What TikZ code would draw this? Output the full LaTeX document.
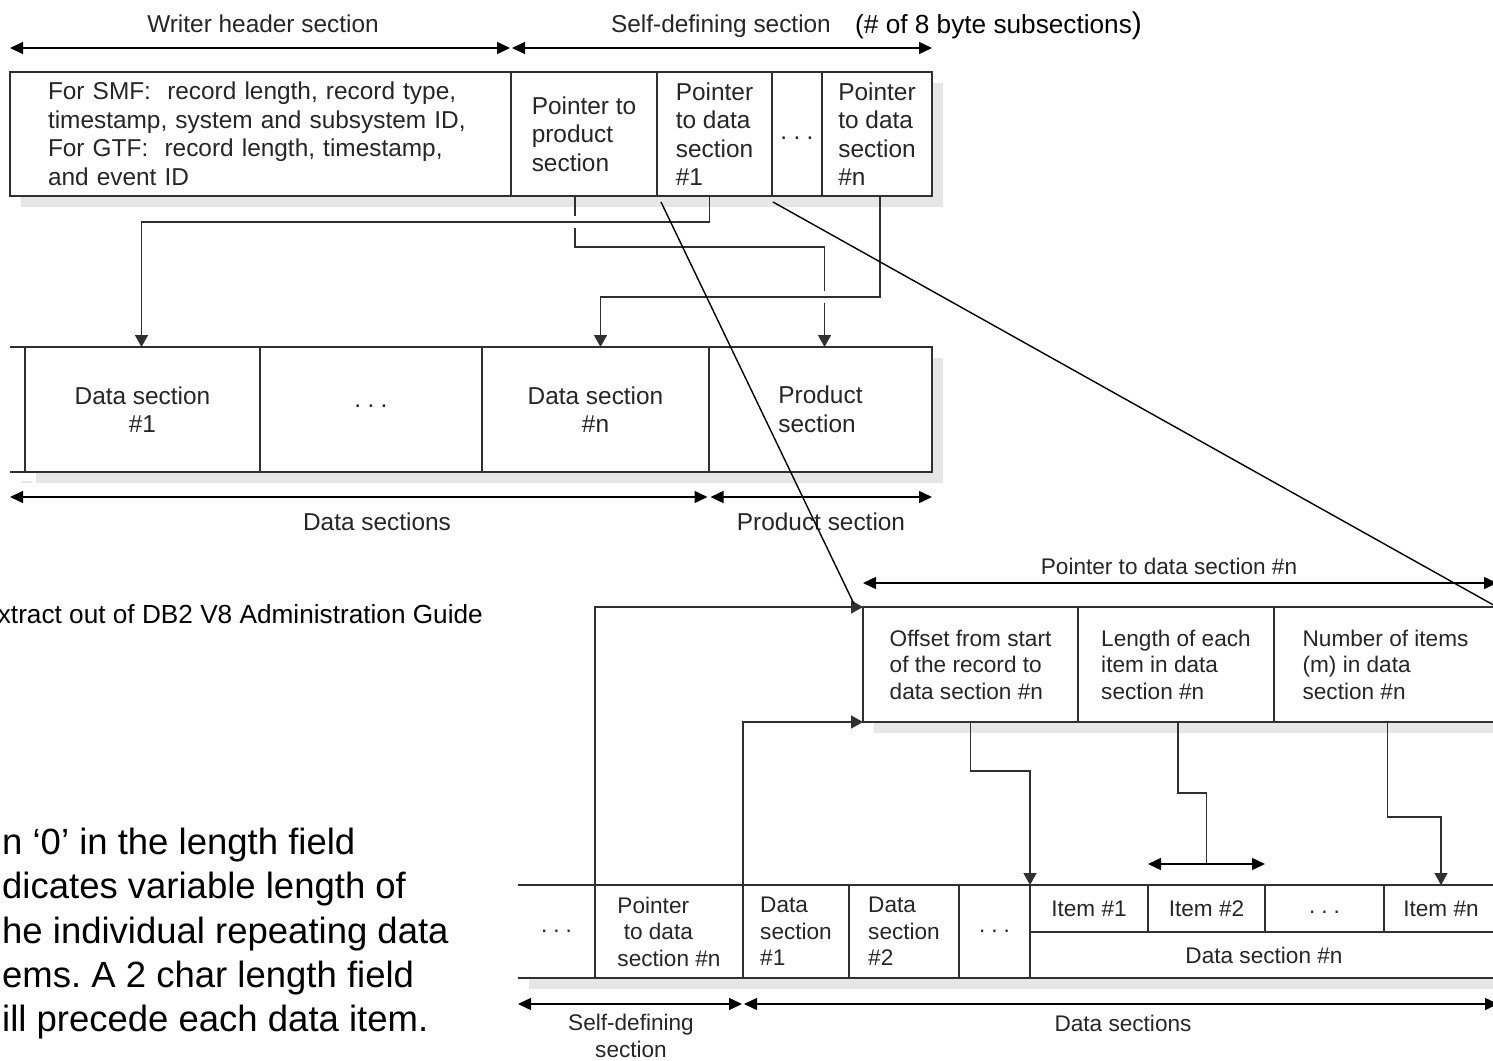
\documentclass[tikz,border=0pt]{standalone}
\usepackage{fontspec}
\setmainfont{Liberation Sans}
\usetikzlibrary{positioning,arrows.meta,backgrounds}

\definecolor{inkgray}{HTML}{262626}
\definecolor{linegray}{HTML}{303030}
\definecolor{shadowgray}{HTML}{E6E6E7}

\newcommand{\sepdots}{.\hspace{0.26em}.\hspace{0.26em}.}

\tikzset{
	cell/.style={draw=linegray, line width=1.3pt, fill=white, inner sep=0pt, outer sep=0pt, align=left, text=inkgray},
	bigcell/.style={cell, minimum height=124pt, font=\fontsize{24.4}{28.5}\selectfont},
	midcell/.style={cell, minimum height=125pt, align=center, font=\fontsize{24.4}{28.5}\selectfont},
	lowcell/.style={cell, font=\fontsize{22.6}{26.5}\selectfont},
	lbl/.style={text=inkgray, inner sep=0pt, anchor=base, font=\fontsize{24.4}{28.5}\selectfont},
	lowlbl/.style={lbl, font=\fontsize{22.6}{26.5}\selectfont},
	note/.style={inner sep=0pt, align=left, text=black},
	dimarrow/.style={draw=black, line width=1.5pt, {Triangle[length=13pt,width=12pt]}-{Triangle[length=13pt,width=12pt]}},
	link/.style={draw=linegray, line width=1.5pt},
	tipped/.style={-{Triangle[length=12pt,width=13pt]}},
	diag/.style={draw=black, line width=1.4pt},
}

\begin{document}
\begin{tikzpicture}[x=1pt, y=-1pt]
		\useasboundingbox (0,0) rectangle (1493,1060);

		\node[bigcell, text width=425pt, inner xsep=38pt, anchor=north west] (wh) at (10,72)
			{For SMF:\ \ record length, record type,\\timestamp, system and subsystem ID,\\For GTF:\ \ record length, timestamp,\\and event ID};
		\node[bigcell, minimum width=146pt, right=0pt of wh] (pprod) {Pointer to\\product\\section};
		\node[bigcell, minimum width=115pt, right=0pt of pprod] (pd1) {Pointer\\to data\\section\\\#1};
		\node[bigcell, minimum width=50pt, right=0pt of pd1] (pdots) {\raisebox{-10pt}{\sepdots}};
		\node[bigcell, minimum width=110pt, right=0pt of pdots] (pdn) {Pointer\\to data\\section\\\#n};

		\node[lbl] (whlbl) at (263,32) {Writer header section};
		\node[lbl] (sdlbl) at (721,32) {Self-defining section};
		\node[note, anchor=base west, font=\fontsize{26.2}{30}\selectfont] (sdnote) at (855,33)
			{(\# of 8 byte subsections{\fontsize{30}{30}\selectfont)}};
		\draw[dimarrow, shorten >=1pt] ([yshift=24pt]wh.north west) -- ([yshift=24pt]wh.north east);
		\draw[dimarrow, shorten <=1pt] ([yshift=24pt]pprod.north west) -- ([yshift=24pt]pdn.north east);

		\node[midcell, minimum width=235pt, anchor=north west] (ds1) at (25,347) {Data section\\\#1};
		\node[midcell, minimum width=222pt, right=0pt of ds1] (dsdots) {\raisebox{7pt}{\sepdots}};
		\node[midcell, minimum width=227pt, right=0pt of dsdots] (dsn) {Data section\\\#n};
		\node[midcell, minimum width=223pt, align=left, right=0pt of dsn] (prod) {Product\\section};
		\draw[link] (ds1.north west) -- ++(-15,0);
		\draw[link] (ds1.south west) -- ++(-15,0);

		\draw[dimarrow, shorten >=1.5pt] ([shift={(-15pt,-25pt)}]ds1.south west) -- ([yshift=-25pt]prod.south west);
		\draw[dimarrow, shorten <=1.5pt] ([yshift=-25pt]prod.south west) -- ([yshift=-25pt]prod.south east);
		\node[lbl] (dslbl) at (377,530) {Data sections};
		\node[lbl] (prodlbl) at (821,530) {Product section};

		\coordinate (k2) at ([shift={(-5pt,-26pt)}]pd1.south);
		\coordinate (k3) at ([shift={(3pt,-101pt)}]pdn.south);
		\coordinate (t1) at ([xshift=4pt]prod.north);
		\draw[link, tipped] ([xshift=-9pt]pprod.south) coordinate (k1) -- ++(0,51) -| (t1);
		\path (k1 |- k2) coordinate (x12);
		\path (t1 |- k3) coordinate (x13);
		\fill[white] ([shift={(-3pt,6pt)}]x12) rectangle ([shift={(3pt,-6pt)}]x12);
		\fill[white] ([shift={(-3pt,6pt)}]x13) rectangle ([shift={(3pt,-6pt)}]x13);
		\draw[link, tipped] ([xshift=-5pt]pd1.south) -- (k2) -| ([xshift=-1pt]ds1.north);
		\draw[link, tipped] ([xshift=3pt]pdn.south) -- (k3) -| ([xshift=5pt]dsn.north);

		\node[note, anchor=east, font=\fontsize{26.2}{30}\selectfont] (src) at (483,614)
			{xtract out of DB2 V8 Administration Guide};
		\node[note, anchor=north west, font=\fontsize{36.5}{44.3}\selectfont\frenchspacing] (varnote) at (2,828)
			{n `0' in the length field\\dicates variable length of\\he individual repeating data\\ems. A 2 char length field\\ill precede each data item.};

		\node[lowcell, minimum width=215pt, minimum height=115pt, anchor=north west] (off) at (863,607)
			{Offset from start\\of the record to\\data section \#n};
		\node[lowcell, minimum width=196pt, minimum height=115pt, right=0pt of off] (len)
			{Length of each\\item in data\\section \#n};
		\node[lowcell, minimum width=223pt, minimum height=115pt, right=0pt of len] (num)
			{Number of items\\(m) in data\\section \#n};
		\node[lowlbl] (pnlbl) at (1169,574) {Pointer to data section \#n};
		\draw[dimarrow] ([yshift=24pt]off.north west) -- ([yshift=24pt]num.north east);

		\node[lowcell, draw=none, minimum width=77pt, minimum height=93pt, anchor=north west] (bdots) at (518,885) {\sepdots};
		\node[lowcell, minimum width=148pt, minimum height=93pt, right=0pt of bdots] (bptr) {Pointer\\\ to data\\section \#n};
		\node[lowcell, minimum width=106pt, minimum height=93pt, right=0pt of bptr] (bd1) {Data\\section\\\#1};
		\node[lowcell, minimum width=110pt, minimum height=93pt, right=0pt of bd1] (bd2) {Data\\section\\\#2};
		\node[lowcell, minimum width=71pt, minimum height=93pt, right=0pt of bd2] (bdots2) {\sepdots};
		\draw[link] (bdots.north west) -- (bdots.north east);
		\draw[link] (bdots.south west) -- (bdots.south east);

		\node[lowcell, minimum width=118pt, minimum height=47pt, anchor=north west] (item1) at (bdots2.north east) {Item \#1};
		\node[lowcell, minimum width=117pt, minimum height=47pt, right=0pt of item1] (item2) {Item \#2};
		\node[lowcell, minimum width=119pt, minimum height=47pt, right=0pt of item2] (itemdots) {\raisebox{-10pt}{\sepdots}};
		\node[lowcell, minimum width=114pt, minimum height=47pt, right=0pt of itemdots] (itemn) {Item \#n};
		\node[lowcell, minimum width=468pt, minimum height=46pt, anchor=north west] (dsecn) at (item1.south west) {Data section \#n};

		\draw[link, tipped] (bptr.north west) |- (off.north west);
		\draw[link, tipped] (bptr.north east) |- (off.south west);
		\draw[link, tipped] (off.south) -- ++(0,49) -| (item1.north west);
		\draw[link] ([xshift=2pt]len.south) -- ++(0,71) -| ([yshift=21pt]item2.north);
		\draw[dimarrow] ([yshift=21pt]item2.north west) -- ([yshift=21pt]item2.north east);
		\draw[link, tipped] ([xshift=2pt]num.south) -- ++(0,95) -| (itemn.north);

		\draw[dimarrow, shorten >=1pt] ([yshift=-26pt]bdots.south west) -- ([yshift=-26pt]bptr.south east);
		\draw[dimarrow, shorten <=1pt] ([yshift=-26pt]bptr.south east) -- ([yshift=-26pt]dsecn.south east);
		\node[lowlbl, anchor=center, align=center] (sdlbl2) at (631,1036) {Self-defining\\section};
		\node[lowlbl] (dslbl2) at (1123,1031) {Data sections};

		\draw[diag] ([shift={(4pt,-6pt)}]pd1.south west) -- ([shift={(-9pt,3pt)}]off.north west);
		\draw[diag] ([shift={(1pt,-6pt)}]pdots.south west) -- (num.north east);

		\begin{scope}[on background layer]
			\fill[shadowgray] ([shift={(11pt,-11pt)}]wh.north west) rectangle ([shift={(11pt,-11pt)}]pdn.south east);
			\fill[shadowgray] ([shift={(11pt,-11pt)}]ds1.north west) rectangle ([shift={(11pt,-11pt)}]prod.south east);
			\draw[shadowgray, line width=1.5pt] ([shift={(-4pt,-10pt)}]ds1.south west) -- ++(11,0);
			\fill[shadowgray] ([shift={(11pt,-11pt)}]off.north west) rectangle ([shift={(11pt,-11pt)}]num.south east);
			\fill[shadowgray] ([shift={(11pt,-11pt)}]bdots.north west) rectangle ([shift={(11pt,-11pt)}]dsecn.south east);
		\end{scope}
	\end{tikzpicture}
\end{document}
